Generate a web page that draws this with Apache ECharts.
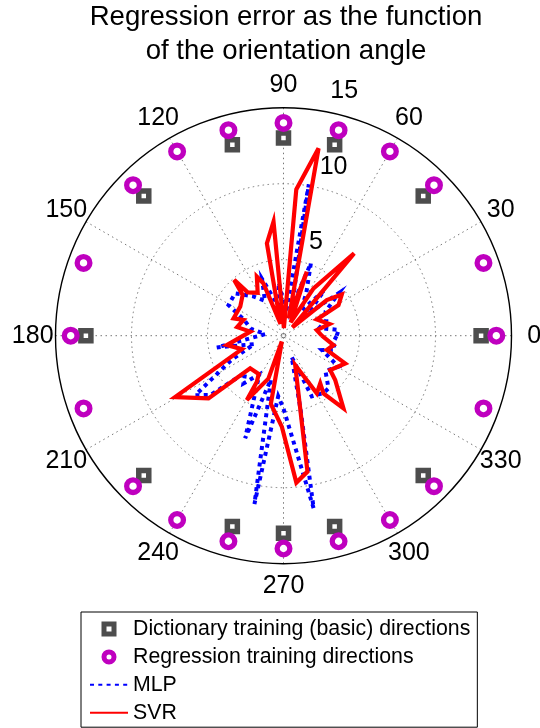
<!DOCTYPE html>
<html>
<head>
<meta charset="utf-8">
<script src="https://cdn.jsdelivr.net/npm/echarts@6/dist/echarts.min.js"></script>
<style>
html,body{margin:0;padding:0;background:#ffffff;}
#chart{width:540px;height:728px;}
</style>
</head>
<body>
<div id="chart"></div>
<script>
// ---- data ----
const titleText = 'Regression error as the function\nof the orientation angle';
const angleTicks = [0, 30, 60, 90, 120, 150, 180, 210, 240, 270, 300, 330];
const radiusTicks = [5, 10, 15];
const radiusLabelAngle = 82;
const angleLabelRadius = 16.5;

const dictionaryName = 'Dictionary training (basic) directions';
const dictionaryAngles = [0, 45, 75, 90, 105, 135, 180, 225, 255, 270, 285, 315];
const dictionaryRadius = 13;

const regressionName = 'Regression training directions';
const regressionAngles = [0, 20, 45, 60, 75, 90, 105, 120, 135, 160, 180, 200, 225, 240, 255, 270, 285, 300, 315, 340];
const regressionRadius = 14;

const mlpTheta = [0, 6, 12, 20, 30, 37.6, 42, 48, 55, 62, 69.3, 74, 80.5, 84, 88, 95, 100, 110.7, 118, 128,
  138.8, 150.9, 158, 168, 175, 190, 196, 205, 214, 219, 224, 230, 238, 249.5, 254, 260.2, 265, 270, 279.9, 283,
  291, 295, 305, 310.5, 320, 330.6, 339.5, 344.5, 352, 360];
const mlpR = [3.5, 3.65, 2.4, 3.0, 3.2, 4.6, 2.2, 4.0, 2.0, 3.2, 5.1, 2.0, 10.1, 1.5, 1.5, 3.5, 2.0, 4.0, 2.6, 3.3,
  4.23, 4.14, 2.8, 2.2, 1.2, 4.45, 2.0, 3.8, 7.0, 6.2, 3.5, 4.1, 3.0, 7.2, 3.0, 11.24, 4.0, 4.8, 11.53, 5.0,
  1.5, 4.4, 4.6, 4.56, 3.6, 4.15, 2.7, 3.5, 3.3, 3.5];

const svrTheta = [0, 9.6, 14.2, 26.1, 29.1, 35.3, 39.5, 43, 49.4, 57.6, 62, 70, 73, 79.4, 85, 87, 95, 100.2, 104, 111,
  114.3, 121, 129.6, 131.5, 135, 146, 160.9, 158.6, 169.5, 173, 189.4, 198, 209.5, 219.9, 224.4, 237, 240, 240.3, 250.6, 254,
  259.5, 269, 275, 280, 291.7, 300, 307.6, 304.7, 309.5, 319.4, 323.7, 335.8, 341.7, 349.4, 360];
const svrR = [2.52, 2.22, 3.12, 2.44, 4.14, 4.7, 3.69, 0.8, 7.14, 3.69, 1.0, 4.48, 1.2, 12.54, 9.66, 0.5, 7.53, 6.17, 0.8, 3.7,
  4.26, 3.3, 3.7, 4.9, 3.8, 3.43, 3.48, 2.83, 3.1, 2.2, 3.78, 2.88, 8.2, 6.43, 3.07, 3.0, 3.5, 4.87, 3.0, 0.4,
  4.57, 6.0, 9.7, 9.08, 2.08, 4.38, 3.96, 4.62, 6.2, 4.48, 3.81, 4.45, 3.0, 3.35, 2.52];

// ---- chart ----
const FONT = '"Liberation Sans", Arial, Helvetica, sans-serif';
const gridLine = { color: '#777777', type: [1.5, 3.5], width: 1 };

const chart = echarts.init(document.getElementById('chart'), null, { renderer: 'canvas' });

const option = {
  animation: false,
  backgroundColor: '#ffffff',
  textStyle: { fontFamily: FONT },
  title: {
    text: titleText,
    left: 286,
    top: 0,
    padding: 0,
    textAlign: 'center',
    textStyle: { fontFamily: FONT, fontSize: 27.6, fontWeight: 'normal', color: '#000', lineHeight: 34 }
  },
  legend: {
    orient: 'vertical',
    left: 81,
    top: 612,
    height: 140,
    padding: [6.5, 7, 4, 8],
    itemGap: 6.9,
    itemWidth: 38,
    itemHeight: 10,
    borderColor: '#000',
    borderWidth: 1,
    backgroundColor: '#fff',
    textStyle: { fontFamily: FONT, fontSize: 21.3, color: '#000' },
    data: [
      { name: dictionaryName, icon: 'path://M0,0H10V10H0Z', itemStyle: { borderWidth: 5, opacity: 1 } },
      { name: regressionName, icon: 'circle', itemStyle: { borderWidth: 5, opacity: 1 } },
      { name: 'MLP', itemStyle: { opacity: 0 } },
      { name: 'SVR', itemStyle: { opacity: 0 } }
    ]
  },
  polar: { center: [283.5, 335.7], radius: 228 },
  angleAxis: {
    type: 'value', min: 0, max: 360, interval: 30,
    startAngle: 0, clockwise: false,
    axisLine: { show: true, lineStyle: { color: '#000', width: 1.4 } },
    axisTick: { show: false },
    axisLabel: { show: false },
    splitLine: { show: true, lineStyle: gridLine }
  },
  radiusAxis: {
    type: 'value', min: 0, max: 15, interval: 5,
    axisLine: { show: false },
    axisTick: { show: false },
    axisLabel: { show: false },
    splitLine: { show: true, lineStyle: { color: ['#777777', '#777777', '#777777', 'rgba(0,0,0,0)'], type: [1.5, 3.5], width: 1 } }
  },
  series: [
    {
      name: dictionaryName, type: 'scatter', coordinateSystem: 'polar',
      data: dictionaryAngles.map(a => [dictionaryRadius, a]),
      symbol: 'rect', symbolSize: 10,
      itemStyle: { color: '#ffffff', borderColor: '#4d4d4d', borderWidth: 5.5, opacity: 1 },
      z: 3, silent: true
    },
    {
      name: regressionName, type: 'scatter', coordinateSystem: 'polar',
      data: regressionAngles.map(a => [regressionRadius, a]),
      symbol: 'circle', symbolSize: 12.7,
      itemStyle: { color: '#ffffff', borderColor: '#bf00bf', borderWidth: 5.3, opacity: 1 },
      z: 4, silent: true
    },
    {
      name: 'MLP', type: 'line', coordinateSystem: 'polar',
      data: mlpTheta.map((t, i) => [mlpR[i], t]),
      symbol: 'none', smooth: false,
      lineStyle: { color: '#0000ff', width: 4, type: [4, 4.3], cap: 'butt', join: 'miter' },
      itemStyle: { color: '#0000ff' },
      z: 5, silent: true
    },
    {
      name: 'SVR', type: 'line', coordinateSystem: 'polar',
      data: svrTheta.map((t, i) => [svrR[i], t]),
      symbol: 'none', smooth: false,
      lineStyle: { color: '#ff0000', width: 4.2, join: 'miter', miterLimit: 6 },
      itemStyle: { color: '#ff0000' },
      z: 6, silent: true
    },
    {
      name: 'angleLabels', type: 'scatter', coordinateSystem: 'polar', clip: false,
      data: angleTicks.map(a => [angleLabelRadius, a]),
      symbolSize: 0, silent: true, z: 7,
      itemStyle: { opacity: 1 },
      label: {
        show: true, position: 'inside', align: 'center', verticalAlign: 'middle',
        fontFamily: FONT, fontSize: 25, color: '#000', opacity: 1,
        formatter: p => String(p.value[1])
      }
    },
    {
      name: 'radiusLabels', type: 'scatter', coordinateSystem: 'polar', clip: false,
      data: radiusTicks.map(v => [v, radiusLabelAngle]),
      symbolSize: 0, silent: true, z: 7,
      itemStyle: { opacity: 1 },
      label: {
        show: true, position: [15, -18.5], align: 'left', verticalAlign: 'middle',
        fontFamily: FONT, fontSize: 25, color: '#000', opacity: 1,
        formatter: p => String(p.value[0])
      }
    }
  ]
};
chart.setOption(option);
</script>
</body>
</html>
